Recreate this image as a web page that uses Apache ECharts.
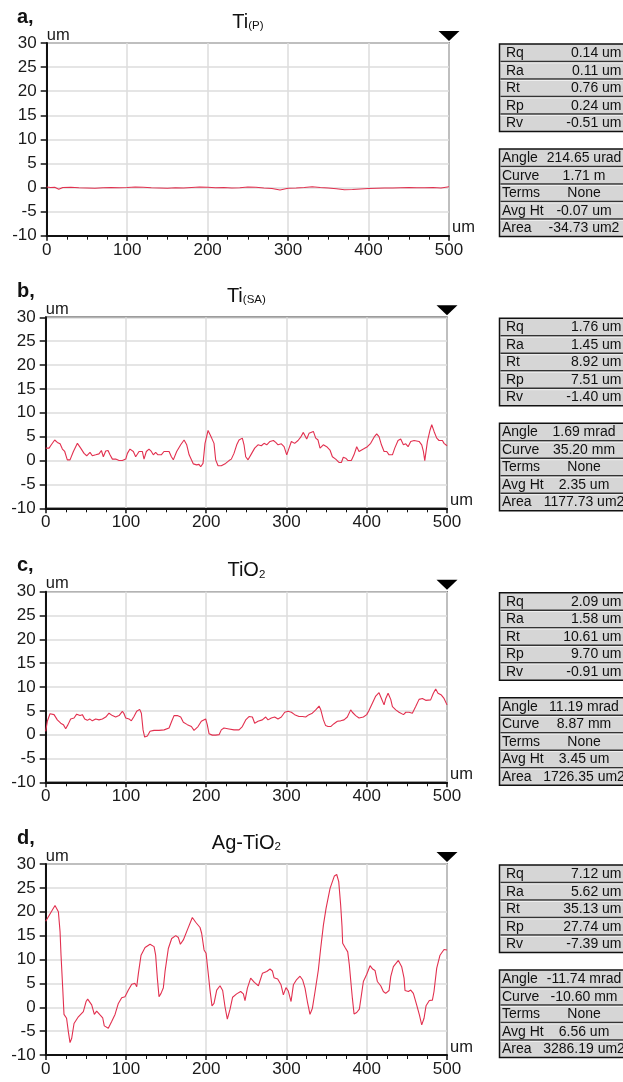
<!DOCTYPE html>
<html>
<head>
<meta charset="utf-8">
<script src="https://cdn.jsdelivr.net/npm/echarts@6/dist/echarts.min.js"></script>
<style>
html,body{margin:0;padding:0;background:#fff;}
#chart{width:623px;height:1082px;}
</style>
</head>
<body>
<div id="chart"></div>
<script>
// ---------- DATA ----------
const panelLabels = ['a,', 'b,', 'c,', 'd,'];
const titleMain = ['Ti', 'Ti', 'TiO', 'Ag-TiO'];
const titleSub = ['(P)', '(SA)', '2', '2'];

const statNames1 = ['Rq', 'Ra', 'Rt', 'Rp', 'Rv'];
const statNames2 = ['Angle', 'Curve', 'Terms', 'Avg Ht', 'Area'];
const statsA1 = ['0.14 um', '0.11 um', '0.76 um', '0.24 um', '-0.51 um'];
const statsA2 = ['214.65 urad', '1.71 m', 'None', '-0.07 um', '-34.73 um2'];
const statsB1 = ['1.76 um', '1.45 um', '8.92 um', '7.51 um', '-1.40 um'];
const statsB2 = ['1.69 mrad', '35.20 mm', 'None', '2.35 um', '1177.73 um2'];
const statsC1 = ['2.09 um', '1.58 um', '10.61 um', '9.70 um', '-0.91 um'];
const statsC2 = ['11.19 mrad', '8.87 mm', 'None', '3.45 um', '1726.35 um2'];
const statsD1 = ['7.12 um', '5.62 um', '35.13 um', '27.74 um', '-7.39 um'];
const statsD2 = ['-11.74 mrad', '-10.60 mm', 'None', '6.56 um', '3286.19 um2'];

// Ti(P) profile
const tiP_x = [0,5,10,15,20,30,40,50,60,70,80,90,100,110,120,130,140,150,160,170,180,190,200,210,220,230,240,250,260,270,280,290,300,310,320,330,340,350,360,370,380,390,400,410,420,430,440,450,460,470,480,490,500];
const tiP_y = [0.1,0.0,0.05,-0.35,0.0,0.05,-0.05,-0.1,-0.15,-0.05,0.0,-0.05,0.0,0.1,0.05,-0.05,-0.1,-0.15,-0.05,-0.1,0.0,0.1,0.05,-0.05,0.0,-0.1,-0.05,0.1,0.05,-0.1,-0.2,-0.5,-0.15,-0.1,0.0,0.15,0.0,-0.1,-0.25,-0.45,-0.4,-0.3,-0.2,-0.15,-0.1,-0.1,-0.05,0.0,-0.05,-0.05,0.0,-0.1,0.15];

// Ti(SA) profile
const tiSA_x = [0,4.2,7,11.2,14.5,17.9,20.8,23.7,26.9,30.3,34.5,39.5,43.6,47.8,51.1,55.2,58.1,62.3,66.4,69.4,71.8,74.8,77.7,80.1,83.1,87.2,91.4,95.5,99.7,101.8,105,109.2,112.1,116.3,120.4,122.5,125.4,128.7,131.6,134.1,137,139.9,144,147.4,153.7,156.6,159,163.2,168.2,172.4,175.7,178.7,184,188.1,191,193.1,196,198.5,202.3,204.7,206.8,209.7,211.8,214.7,218.8,224.2,228.4,231.3,234.6,238,240.9,245,247.1,249.2,252.1,256.3,260.4,264.5,268.7,272,275.4,279.5,283.7,286.6,289.5,293.6,297,300.3,303.2,306.1,310.2,314.4,317.7,321,325.2,328.1,333.5,336.4,339.3,341.8,345.9,350.1,354.2,357.2,361.3,365.4,368.4,370.8,373.8,376.7,380.8,384.1,387.5,390.4,395.8,400.8,404.9,409.1,412.4,415.3,418.3,421.6,424.9,427.8,432,434.9,439,442.3,445.7,448.6,451.5,454.8,459,465.2,468.5,470.6,472.3,475.6,478.9,481,483.9,487.2,490.1,494.3,496.3,500];
const tiSA_y = [2.6,2.6,3.3,4.3,3.8,3.5,2.4,1.9,0.15,0.15,1.9,3.6,2.6,1.5,1,1.7,1,1.2,1.4,2.1,0.8,2,2.1,1.2,0.3,0.3,0,0,0.3,1.5,2.4,1.9,0.8,1.9,1.9,0.3,1.9,2.4,1.9,1.2,1.7,1.2,1.2,1.9,1.9,0.8,0.15,1.9,3.3,4.3,3.3,1.2,-0.7,-0.9,-0.8,-1.3,-0.6,3.6,6.3,6.4,4.7,3.6,0.15,-1.1,-1.1,-0.6,0,0.3,1.5,3.3,4.3,4.7,3.3,0.8,0.15,1.4,2.6,3.3,3.1,3.6,3.3,4,4.2,3.8,3.3,3.5,2.9,1.2,2.6,4,3.6,4.2,4.9,5.9,4.5,5.7,6.1,4.7,4.3,2.6,3.3,2.9,2.2,0.8,0.3,-0.4,-0.4,0.7,0.5,0,0,1.2,2.9,1.9,2.4,2.9,3.6,4.9,5.6,5,3.3,1.9,1.9,1.2,1.2,2.6,4.2,4.5,3.3,3.5,2.9,4,4.2,4,3.3,1.9,0,4,6.4,7.5,6.1,4.7,4.2,4.2,3.6,3.1];

// TiO2 profile
const tiO2_x = [0,2,5.4,10.4,14.5,18.7,22,24.9,27.8,31.1,35.3,38.6,42.8,45.7,48.6,51.9,54.8,58.1,62.3,66.4,70.6,74.8,78.9,83.1,87.2,91.4,95.5,97.6,99.7,103.8,106.7,110,113.4,117.1,119.2,121.3,123.3,126.7,130,135,141.2,147.5,153.7,157,159.9,164,168.2,171.5,176.5,181.5,184.8,186.9,189.8,193.9,199.3,201.3,203.5,207.6,211.8,216,218.8,222.1,228.4,234.6,240.9,245,249.2,253.3,257.5,260.4,264.5,269.9,274.1,277,281.1,285.3,289.4,293.6,297.8,301.9,306.1,310.2,315.6,319.8,323.9,328.1,332.2,336.4,340.6,342.6,346,348.8,351.7,355.1,359.2,363.4,367.5,371.7,375.8,380,382.1,386.2,390.4,395.8,400,402.9,407,411.2,415.3,418.3,421.6,423.7,426.6,429.9,432,436.2,440.2,445.8,448.7,452.7,456.8,461,465.2,469.3,473.5,479.6,483,485.9,488.8,493,496.3,500];
const tiO2_y = [0.7,2.8,4.4,4.2,3.1,2.4,2.1,1.25,2.1,3.3,3.5,4.3,4,4.2,3.3,3,3.3,2.9,3.3,3.1,3.3,3.7,4.5,4,3.7,4,4.9,4.4,3.5,3.3,2.9,3.8,4.9,5.3,4.5,1,-0.5,-0.3,0.7,0.9,0.9,1,1.4,2.8,4,4,3.7,2.6,2.1,1.7,0.9,0.7,1.7,2.8,3.3,2.1,0.2,-0.1,-0.1,0,1,1.4,1.2,1,1,1.7,3.1,3.8,3.7,2.4,2.8,3.1,3.7,3.1,3.5,3.7,3.3,3.7,4.7,4.9,4.7,4.2,3.8,3.8,3.7,4.2,4.5,5.2,6,5.3,3.1,1.9,1.7,1.7,2.3,2.8,2.9,3.1,3.7,5.2,4.7,4,3.5,3.7,4.2,5.1,6.6,8.1,8.8,7.6,6.25,7.6,8.7,7.4,5.9,5.2,4.7,4.2,4.7,4.7,4.5,5.9,7.4,7.6,7.2,7.3,8.7,9.6,8.7,8.3,7.6,6.25];

// Ag-TiO2 profile
const agTiO2_x = [0,11.6,15.8,17.9,19.1,21.2,22.8,26,28.2,30.3,32.4,35.3,40.7,46.9,50.3,52.3,57.3,60.6,63.5,67.7,71,73,78,82.2,86.4,90.5,94.7,98.8,103,107.2,111.3,113.4,115.5,118.8,123.8,130,135,137,139.1,141.2,143.7,146.6,148.7,152.8,157,162,165.3,167.8,171.5,176.5,182.7,186.9,192.3,194.3,197.3,199.8,202.7,204.7,207.2,209.7,213.1,217.2,220.5,223.4,226.3,229.7,232.9,237.9,242.9,246.3,248.3,251.3,255.4,260,265,270,275.4,279.5,282.4,284.5,289,293.2,296.1,299.4,302.3,305.7,308.6,312.7,316.9,320.2,323.1,326,329.3,332.3,335.6,339.7,342.6,346,349.3,354.3,359.7,362.6,365.1,367.5,369.2,370,373,376.3,378.3,380,382.1,384.2,387.5,390.8,392.9,395.8,400,404.1,407.4,410.3,413.2,417.4,420.7,423.6,427.8,429.9,433.2,439.4,443.5,446.5,447.7,451.9,454.8,458.1,462.2,465.6,468.5,471.4,473.9,478,481.8,483.8,487.2,491.3,496.3,500];
const agTiO2_y = [18,21.3,20,15.8,10.9,4,-1.5,-2.3,-5.1,-7.4,-6.5,-3.4,-2,-0.9,1.2,1.7,0.5,-1.5,-0.8,-1.6,-2.2,-3.9,-4.4,-3,-1.5,0.8,2,2.2,3.6,4.8,5,4.3,7.1,10.9,12.5,13.2,12.7,10.9,6.1,2.2,2.9,4.1,7.5,12.3,14.4,15,14.6,13.2,14.1,16.2,18.8,17.8,16.7,15.5,12,11.3,6.8,3.6,0.3,0.8,3.6,4.5,3.5,0.1,-2.5,-0.4,2.1,2.8,3.3,2.8,1.4,4,6.1,5.2,4.5,7.1,7.5,8,7.6,6.2,5.9,4.7,2.6,4.1,3.4,1.2,4.7,5.8,6.5,5.7,4,1.2,-1.5,-0.2,3.3,7.8,12.3,17.2,20.7,24.9,27.5,27.8,26.3,21.4,16.9,13.4,12.5,11.6,8.9,5.7,1.9,-1.4,-1.1,-0.4,2,5.4,6.9,8.7,8,7.7,5.4,4.5,3.3,2.9,3.5,6.4,8.5,9.8,8.5,6.1,3.5,3.3,3.6,2.9,0.5,-1.6,-3.7,-2.3,0.3,1.4,1.5,3.3,8.2,10.9,12.1,12];

// ---------- LAYOUT ----------
const FONT = '"Liberation Sans", Arial, Helvetica, sans-serif';
const grids = [
  {left: 46.7, top: 43, width: 402.3, height: 192.7},
  {left: 45.7, top: 317.3, width: 401.3, height: 191},
  {left: 45.7, top: 591.7, width: 401.3, height: 190.6},
  {left: 45.7, top: 864, width: 401.3, height: 191}
];
const profilesX = [tiP_x, tiSA_x, tiO2_x, agTiO2_x];
const profilesY = [tiP_y, tiSA_y, tiO2_y, agTiO2_y];
const stats1 = [statsA1, statsB1, statsC1, statsD1];
const stats2 = [statsA2, statsB2, statsC2, statsD2];

const LINE_COLOR = '#e2304f';

const option = {
  backgroundColor: '#ffffff',
  animation: false,
  grid: grids.map(g => ({...g, show: true, borderColor: '#3a3a3a', borderWidth: 1.5, containLabel: false})),
  xAxis: grids.map((g, i) => ({
    type: 'value', gridIndex: i, min: 0, max: 500, interval: 100,
    name: 'um', nameLocation: 'end', nameGap: 3,
    nameTextStyle: {fontFamily: FONT, fontSize: 16.5, color: '#1a1a1a', verticalAlign: 'bottom', align: 'left', lineHeight: 16},
    axisLine: {show: true, onZero: false, lineStyle: {color: '#111', width: 2}},
    axisTick: {show: true, length: 5, lineStyle: {color: '#111', width: 1.5}},
    minorTick: {show: true, splitNumber: 4, length: 4, lineStyle: {color: '#111', width: 1}},
    axisLabel: {fontFamily: FONT, fontSize: 17, color: '#1a1a1a', margin: 6},
    splitLine: {show: true, lineStyle: {color: '#dcdcdc', width: 1.5}}
  })),
  yAxis: grids.map((g, i) => ({
    type: 'value', gridIndex: i, min: -10, max: 30, interval: 5,
    name: 'um', nameLocation: 'end', nameGap: 0,
    nameTextStyle: {fontFamily: FONT, fontSize: 16.5, color: '#1a1a1a', align: 'left', verticalAlign: 'bottom', lineHeight: 16},
    axisLine: {show: true, onZero: false, lineStyle: {color: '#111', width: 2}},
    axisTick: {show: true, length: 6, lineStyle: {color: '#111', width: 1.5}},
    axisLabel: {fontFamily: FONT, fontSize: 17, color: '#1a1a1a', margin: 10},
    splitLine: {show: true, lineStyle: {color: '#dcdcdc', width: 1.5}}
  })),
  series: profilesX.map((xs, i) => ({
    type: 'line', xAxisIndex: i, yAxisIndex: i,
    data: xs.map((x, k) => [x, profilesY[i][k]]),
    showSymbol: false, symbol: 'none',
    lineStyle: {color: LINE_COLOR, width: 1.1},
    silent: true,
    markPoint: {
      symbol: 'triangle', symbolSize: [21, 10], symbolRotate: 180, symbolOffset: [0, -7],
      itemStyle: {color: '#000'}, label: {show: false}, silent: true,
      data: [{coord: [500, 30]}]
    }
  })),
  graphic: []
};

// Titles, panel letters, statistics boxes
const ROW_H = 17.5;
function statBox(top, names, values, labelX, valueMode) {
  const els = [];
  els.push({type: 'rect', shape: {x: 499.5, y: top, width: 130, height: ROW_H * 5},
    style: {fill: '#d6d6d6', stroke: '#111', lineWidth: 1.5}, silent: true});
  for (let r = 1; r < 5; r++) {
    const ly = top + r * ROW_H;
    els.push({type: 'line', shape: {x1: 500.5, y1: ly, x2: 623, y2: ly}, style: {stroke: '#333', lineWidth: 1.5}, silent: true});
    els.push({type: 'line', shape: {x1: 500.5, y1: ly + 1.4, x2: 623, y2: ly + 1.4}, style: {stroke: '#f2f2f2', lineWidth: 1}, silent: true});
  }
  names.forEach((n, r) => {
    const cy = top + r * ROW_H + ROW_H / 2 + 0.5;
    els.push({type: 'text', x: labelX, y: cy, silent: true,
      style: {text: n, fontFamily: FONT, fontSize: 14, fill: '#111', align: 'left', verticalAlign: 'middle'}});
    const v = values[r];
    els.push({type: 'text', x: valueMode === 'right' ? 621.5 : 584, y: cy, silent: true,
      style: {text: v, fontFamily: FONT, fontSize: 14, fill: '#111', align: valueMode === 'right' ? 'right' : 'center', verticalAlign: 'middle'}});
  });
  return els;
}

grids.forEach((g, i) => {
  const cx = g.left + g.width / 2;
  option.graphic.push({type: 'text', x: 17, y: g.top - 26, silent: true,
    style: {text: panelLabels[i], fontFamily: FONT, fontSize: 20, fontWeight: 'bold', fill: '#111', align: 'left', verticalAlign: 'middle'}});
  option.graphic.push({type: 'text', x: cx, y: g.top - 31, silent: true,
    style: {
      text: '{m|' + titleMain[i] + '}{s|' + titleSub[i] + '}',
      align: 'center', verticalAlign: 'top',
      rich: {
        m: {fontFamily: FONT, fontSize: 20, fill: '#111', lineHeight: 20, verticalAlign: 'top'},
        s: {fontFamily: FONT, fontSize: 11.5, fill: '#111', lineHeight: 11.5, padding: [11.5, 0, 0, 0], verticalAlign: 'bottom'}
      }
    }});
  statBox(g.top + 1, statNames1, stats1[i], 506, 'right').forEach(e => option.graphic.push(e));
  statBox(g.top + 106, statNames2, stats2[i], 502, 'center').forEach(e => option.graphic.push(e));
});

const chart = echarts.init(document.getElementById('chart'), null, {renderer: 'canvas'});
chart.setOption(option);
</script>
</body>
</html>
